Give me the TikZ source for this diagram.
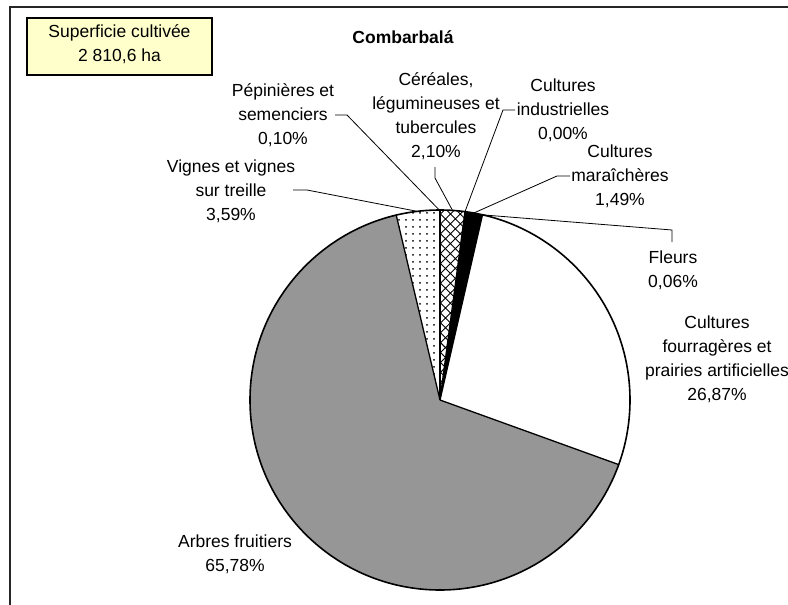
\documentclass[tikz,border=0pt]{standalone}
\usepackage{fontspec}
\setmainfont{Liberation Sans}
\usetikzlibrary{patterns.meta}
\definecolor{boxfill}{HTML}{FFFFCC}
\definecolor{piegray}{HTML}{969696}
\begin{document}
\begin{tikzpicture}[x=1pt,y=-1pt,
  lbl/.style={align=center, font=\fontsize{17.5}{24}\selectfont, inner sep=0pt},
  leader/.style={line width=0.8pt, draw=black},
  edge/.style={draw=black, line width=1.3pt, line join=round},
  infobox/.style={draw=black, line width=1.2pt, fill=boxfill, align=center,
    minimum width=185pt, minimum height=57pt, inner sep=0pt,
    font=\fontsize{17.5}{24}\selectfont}]
\useasboundingbox (0,0) rectangle (788,605);
\draw[line width=1.5pt, draw=black!85] (10,605) -- (10,7) -- (788,7);

\node[draw=black, line width=1.2pt, fill=boxfill, minimum width=185pt, minimum height=57pt] (supbox) at (119.5,46.5) {};
\node[lbl] (sup) at (119.5,44) {Superficie cultivée\\2 810,6 ha};
\node[font=\bfseries\fontsize{17.5}{21}\selectfont, inner sep=0pt] (title) at (403,37) {Combarbalá};

% pie
\begin{scope}[shift={(440,400)}, y=1pt]
  \fill[piegray] (0,0) -- (-19.872:190) arc[start angle=-19.872, end angle=-256.68, radius=190] -- cycle;
  \fill[white] (0,0) -- (76.86:190) arc[start angle=76.86, end angle=-19.872, radius=190] -- cycle;
  \fill[black] (0,0) -- (82.44:190) arc[start angle=82.44, end angle=77.076, radius=190] -- cycle;
  \fill[white] (0,0) -- (90:190) arc[start angle=90, end angle=82.44, radius=190] -- cycle;
  \fill[pattern={Hatch[angle=45,distance=7pt,line width=0.9pt]}, pattern color=black]
     (0,0) -- (90:190) arc[start angle=90, end angle=82.44, radius=190] -- cycle;
  \fill[white] (0,0) -- (103.32:190) arc[start angle=103.32, end angle=90.396, radius=190] -- cycle;
  \fill[pattern={Dots[distance=7pt, radius=1pt]}, pattern color=black]
     (0,0) -- (103.32:190) arc[start angle=103.32, end angle=90.396, radius=190] -- cycle;
  \foreach \a in {90, 82.44, 77.076, -19.872, 103.32}
    \draw[edge] (0,0) -- (\a:190);
  \draw[edge, line width=1.6pt] (0,0) circle[radius=190];
  \coordinate (pPep) at (90.216:190);
  \coordinate (pCer) at (86.22:190);
  \coordinate (pInd) at (82.44:190);
  \coordinate (pMar) at (79.76:190);
  \coordinate (pFle) at (76.97:190);
  \coordinate (pVig) at (96.86:190);
\end{scope}

% labels
\node[lbl] (lPep) at (283,115.5) {Pépinières et\\semenciers\\0,10\%};
\node[lbl] (lCer) at (436,116.5) {Céréales,\\légumineuses et\\tubercules\\2,10\%};
\node[lbl] (lInd) at (563,110) {Cultures\\industrielles\\0,00\%};
\node[lbl] (lMar) at (620,176) {Cultures\\maraîchères\\1,49\%};
\node[lbl] (lFle) at (673,270) {Fleurs\\0,06\%};
\node[lbl] (lFou) at (717,359) {Cultures\\fourragères et\\prairies artificielles\\26,87\%};
\node[lbl] (lVig) at (231,191.5) {Vignes et vignes\\sur treille\\3,59\%};
\node[lbl] (lArb) at (235,554.5) {Arbres fruitiers\\65,78\%};

% leader lines
\coordinate (aPep) at (335,115); \coordinate (bPep) at (347,115);
\draw[leader] (aPep) -- (bPep) -- (pPep);
\coordinate (aCer) at (435,167); \coordinate (bCer) at (435,178);
\draw[leader] (aCer) -- (bCer) -- (pCer);
\coordinate (aInd) at (515,110); \coordinate (bInd) at (503,110);
\draw[leader] (aInd) -- (bInd) -- (pInd);
\coordinate (aMar) at (570,176); \coordinate (bMar) at (557,176);
\draw[leader] (aMar) -- (bMar) -- (pMar);
\coordinate (aFle) at (672,230); \coordinate (bFle) at (672,242);
\draw[leader] (pFle) -- (aFle) -- (bFle);
\coordinate (aVig) at (293,190); \coordinate (bVig) at (307,190);
\draw[leader] (aVig) -- (bVig) -- (pVig);
\end{tikzpicture}
\end{document}
